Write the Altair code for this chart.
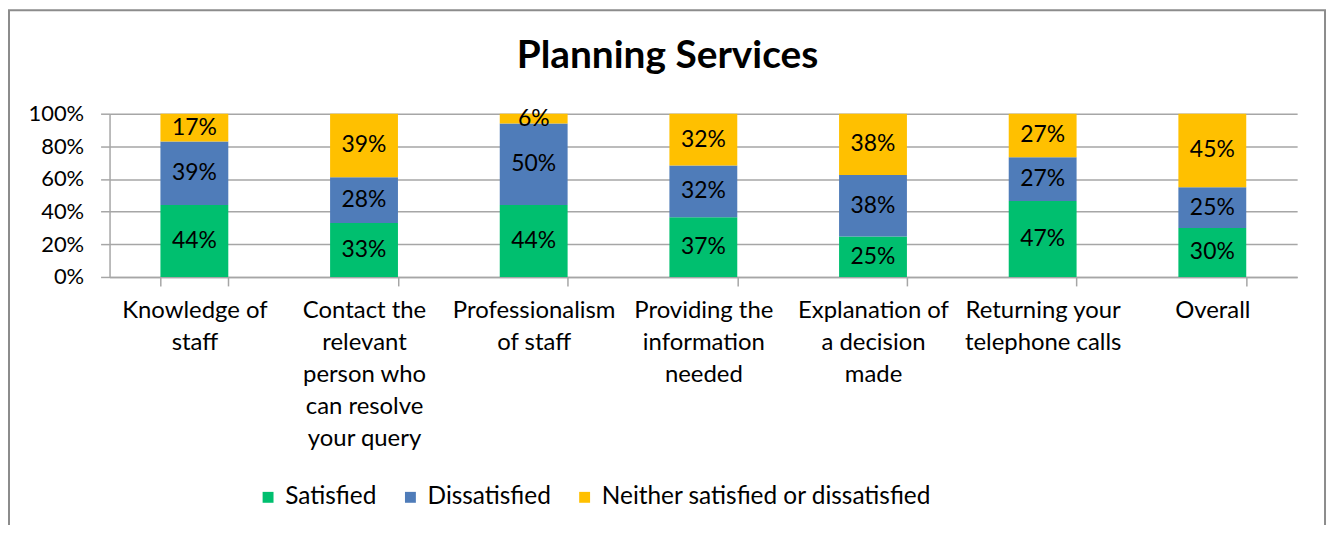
import altair as alt
import pandas as pd

categories = [
    "Knowledge of|staff",
    "Contact the|relevant|person who|can resolve|your query",
    "Professionalism|of staff",
    "Providing the|information|needed",
    "Explanation of|a decision|made",
    "Returning your|telephone calls",
    "Overall",
]
series = ["Satisfied", "Dissatisfied", "Neither satisfied or dissatisfied"]
satisfied = [44, 33, 44, 37, 25, 47, 30]
dissatisfied = [39, 28, 50, 32, 38, 27, 25]
neither = [17, 39, 6, 32, 38, 27, 45]
colors = ["#00BF6F", "#4F7CB9", "#FFC000"]

rows = []
for i, c in enumerate(categories):
    for j, vals in enumerate([satisfied, dissatisfied, neither]):
        rows.append({"cat": c, "series": series[j], "order": j, "value": vals[i]})
df = pd.DataFrame(rows)

W, H = 1193, 164
FONT = "Lato"
GRID = "#A6A6A6"

base = alt.Chart(df).transform_stack(
    stack="value", groupby=["cat"], sort=[alt.SortField("order")],
    as_=["y0", "y1"], offset="normalize"
).transform_calculate(
    mid="(datum.y0 + datum.y1) / 2", label="datum.value + '%'"
)

xaxis = alt.Axis(
    labelExpr="split(datum.label, '|')", labelAngle=0, labelFont=FONT,
    labelFontSize=24, labelColor="black", labelLineHeight=32,
    labelPadding=13, tickBand="extent", tickSize=9, tickColor=GRID,
    tickWidth=1.5, domainColor=GRID, domainWidth=1.5, labelBaseline="top",
    labelOverlap=False, labelLimit=0,
)
xscale = alt.Scale(paddingInner=0.6, paddingOuter=0.3)
yaxis = alt.Axis(
    values=[0, 0.2, 0.4, 0.6, 0.8, 1.0], format=".0%", labelFont=FONT,
    labelFontSize=22, labelColor="black", labelPadding=17, tickSize=9,
    tickColor=GRID, tickWidth=1.5, gridColor=GRID, gridWidth=1.5,
    domainColor=GRID, domainWidth=1.5, labelOverlap=False, labelFlush=False,
)
yscale = alt.Scale(domain=[0, 1], nice=False)

bars = base.mark_bar().encode(
    x=alt.X("cat:N", sort=categories, title=None, scale=xscale, axis=xaxis),
    y=alt.Y("y0:Q", scale=yscale, axis=yaxis, title=None),
    y2="y1:Q",
    color=alt.Color(
        "series:N", scale=alt.Scale(domain=series, range=colors),
        legend=alt.Legend(
            title=None, orient="none", direction="horizontal", legendX=147,
            legendY=373, symbolType="square", symbolSize=120, symbolStrokeWidth=0,
            labelFont=FONT, labelFontSize=24.5, labelColor="black", labelLimit=0,
            columnPadding=21, labelOffset=5,
        ),
    ),
    order=alt.Order("order:Q"),
)

texts = base.mark_text(font=FONT, fontSize=23, color="black", baseline="middle").encode(
    x=alt.X("cat:N", sort=categories, title=None, scale=xscale, axis=xaxis),
    y=alt.Y("mid:Q", scale=yscale, axis=yaxis, title=None),
    text="label:N",
)

frame = alt.Chart(pd.DataFrame({"f": [0]})).mark_rect(
    fill=None, stroke="#8C8C8C", strokeWidth=2, clip=False
).encode(
    x=alt.value(-101), x2=alt.value(1221), y=alt.value(-104), y2=alt.value(700)
)

chart = alt.layer(frame, bars, texts).properties(
    width=W, height=H,
    background="white",
    title=alt.TitleParams(
        "Planning Services", font=FONT, fontSize=39, fontWeight="bold",
        color="black", anchor="middle", dx=-36, offset=-67,
    ),
    autosize=alt.AutoSizeParams(type="none"),
    padding={"left": 102, "top": 105, "right": 31, "bottom": 248},
).configure_view(stroke=None)

chart.save("out.html", embed_options={"renderer": "svg", "actions": False})
